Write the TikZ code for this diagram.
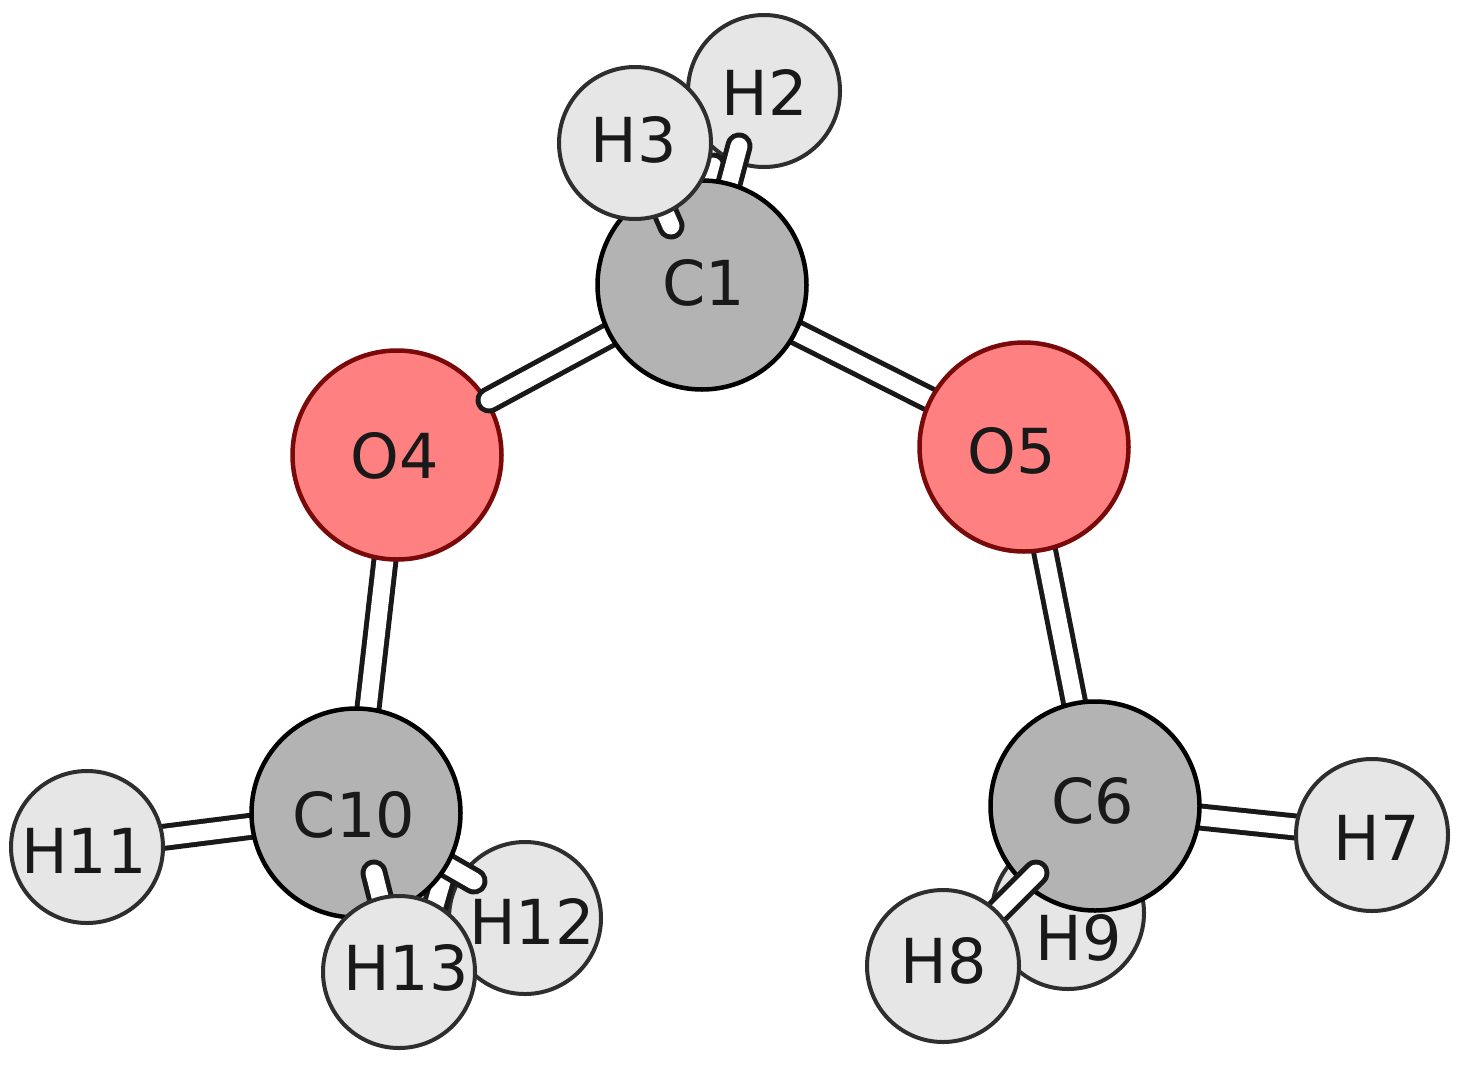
\documentclass[tikz,border=0pt]{standalone}
\usepackage{fontspec}
\setmainfont{DejaVu Sans}
\pgfdeclarelayer{l0}\pgfdeclarelayer{l1}\pgfdeclarelayer{l2}\pgfdeclarelayer{l3}\pgfdeclarelayer{l4}\pgfdeclarelayer{l5}
\pgfsetlayers{l0,l1,l2,l3,l4,l5,main}
\definecolor{cgray}{HTML}{B3B3B3}
\definecolor{ored}{HTML}{FF8080}
\definecolor{ordark}{HTML}{7A0A0A}
\definecolor{hgray}{HTML}{E6E6E6}
\definecolor{hline}{HTML}{2E2E2E}
\tikzset{
 atomC/.style={circle,draw=black,fill=cgray,line width=4.5pt,minimum size=209pt,inner sep=0pt,outer sep=0pt},
 atomO/.style={circle,draw=ordark,fill=ored,line width=4.5pt,minimum size=209pt,inner sep=0pt,outer sep=0pt},
 atomH/.style={circle,draw=hline,fill=hgray,line width=4pt,minimum size=152pt,inner sep=0pt,outer sep=0pt},
 atomlabel/.style={inner sep=0pt,outer sep=0pt,text=black!90,font=\fontsize{62}{62}\selectfont},
 bondout/.style={line width=27pt,draw=black!90,line cap=round},
 bondin/.style={line width=17pt,draw=white,line cap=round}
}
\newcommand{\bondline}[2]{\draw[bondout] (#1) -- (#2);\draw[bondin] (#1) -- (#2);}
\begin{document}
\begin{tikzpicture}[x=1pt,y=-1pt]
\useasboundingbox (0,0) rectangle (1458,1066);
\begin{pgfonlayer}{l0}
\fill[white] (0,0) rectangle (1458,1066);
\end{pgfonlayer}
% back atoms
\begin{pgfonlayer}{l1}
\node[atomH] (H2) at (764,91) {};
\node[atomH] (H12) at (525,918) {};
\node[atomH] (H9) at (1068,913) {};
\node[atomO] (O4) at (397,455) {};
\node[atomH] (H11) at (87,847) {};
\node[atomH] (H7) at (1372,835) {};
\end{pgfonlayer}
\begin{pgfonlayer}{l3}
\node[atomC] (C1) at (702,285) {};
\node[atomC] (C10) at (356,813) {};
\node[atomC] (C6) at (1095,806) {};
\node[atomO] (O5) at (1024,447) {};
\end{pgfonlayer}
\begin{pgfonlayer}{l5}
\node[atomH] (H3) at (635,143) {};
\node[atomH] (H13) at (399,972) {};
\node[atomH] (H8) at (943,966) {};
\end{pgfonlayer}
% free ends of the bonds
\coordinate (endH2) at (739,146);
\coordinate (endO4) at (489,400);
\coordinate (endH3) at (671,226);
\coordinate (endH12) at (474,881);
\coordinate (endH13) at (374,873);
\coordinate (endH8) at (1036,873);
\coordinate (stubA) at (713,166);
\coordinate (stubB) at (443,878);
\coordinate (stubC) at (428,930);
% bonds
\begin{pgfonlayer}{l0}
\bondline{O4.center}{C10.center}
\bondline{O5.center}{C6.center}
\bondline{C10.center}{H11.center}
\bondline{C6.center}{H7.center}
\bondline{C1.center}{O5.center}
\end{pgfonlayer}
\begin{pgfonlayer}{l2}
\bondline{C1.center}{stubA}
\bondline{C1.center}{endH2}
\bondline{stubC}{stubB}
\bondline{C10.center}{endH12}
\bondline{C1.center}{endO4}
\end{pgfonlayer}
\begin{pgfonlayer}{l4}
\bondline{H3.center}{endH3}
\bondline{H13.center}{endH13}
\bondline{H8.center}{endH8}
\end{pgfonlayer}
% labels
\node[atomlabel] (lH2) at (765,92) {H2};
\node[atomlabel] (lH3) at (634,140) {H3};
\node[atomlabel] (lC1) at (704,283) {C1};
\node[atomlabel] (lO4) at (395,456) {O4};
\node[atomlabel] (lO5) at (1012,451) {O5};
\node[atomlabel] (lC10) at (354,815) {C10};
\node[atomlabel] (lC6) at (1093,801) {C6};
\node[atomlabel] (lH11) at (84,851) {H11};
\node[atomlabel] (lH7) at (1377,838) {H7};
\node[atomlabel] (lH12) at (532,921) {H12};
\node[atomlabel] (lH13) at (406,968) {H13};
\node[atomlabel] (lH8) at (944,961) {H8};
\node[atomlabel] (lH9) at (1079,938) {H9};
\end{tikzpicture}
\end{document}
